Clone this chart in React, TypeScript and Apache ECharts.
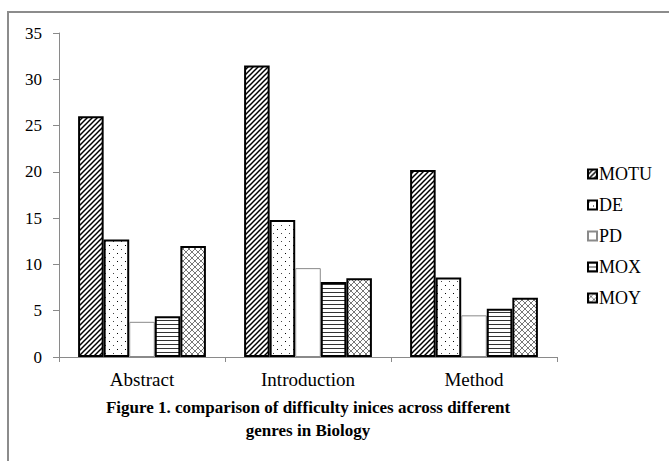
import React, { useEffect, useRef } from "react";
import * as echarts from "echarts";

const categories = ["Abstract", "Introduction", "Method"];
const seriesNames = ["MOTU", "DE", "PD", "MOX", "MOY"];
const motu = [26.0, 31.5, 20.2];
const de = [12.7, 14.8, 8.6];
const pd = [3.8, 9.6, 4.5];
const mox = [4.4, 8.1, 5.2];
const moy = [12.0, 8.5, 6.4];
const yTicks = { min: 0, max: 35, interval: 5 };
const titleLines = [
  "Figure 1. comparison of difficulty inices across different",
  "genres in Biology",
];

function makeTile(w: number, h: number, draw: (ctx: CanvasRenderingContext2D) => void) {
  const c = document.createElement("canvas");
  c.width = w;
  c.height = h;
  const ctx = c.getContext("2d")!;
  ctx.fillStyle = "#ffffff";
  ctx.fillRect(0, 0, w, h);
  draw(ctx);
  return { image: c, repeat: "repeat", imageWidth: w, imageHeight: h };
}

export default function App() {
  const ref = useRef<HTMLDivElement>(null);
  useEffect(() => {
    if (!ref.current) return;
    const chart = echarts.init(ref.current, null, { renderer: "svg" });

    const stripes = makeTile(5, 5, (ctx) => {
      ctx.strokeStyle = "#000";
      ctx.lineWidth = 1.5;
      for (let k = -1; k <= 1; k++) {
        ctx.beginPath();
        ctx.moveTo(k * 5 - 1, 6);
        ctx.lineTo(k * 5 + 6, -1);
        ctx.stroke();
      }
    });
    const dots = makeTile(8, 8, (ctx) => {
      ctx.fillStyle = "#444";
      ctx.fillRect(1, 1, 1, 1);
      ctx.fillStyle = "#000";
      ctx.fillRect(5, 5, 1, 1);
    });
    const hlines = makeTile(4, 4, (ctx) => {
      ctx.fillStyle = "#333";
      ctx.fillRect(0, 0, 4, 1);
    });
    const cross = makeTile(6, 6, (ctx) => {
      ctx.strokeStyle = "#777";
      ctx.lineWidth = 1;
      for (let k = -1; k <= 1; k++) {
        ctx.beginPath();
        ctx.moveTo(k * 6, 6);
        ctx.lineTo(k * 6 + 6, 0);
        ctx.stroke();
        ctx.beginPath();
        ctx.moveTo(k * 6, 0);
        ctx.lineTo(k * 6 + 6, 6);
        ctx.stroke();
      }
    });

    const data = [motu, de, pd, mox, moy];
    const fills: any[] = [stripes, dots, "#ffffff", hlines, cross];
    const borders = ["#000", "#000", "#8a8a8a", "#000", "#000"];
    const bws = [2, 2, 1, 2, 2];

    const font = "Liberation Serif";

    chart.setOption({
      animation: false,
      backgroundColor: "#ffffff",
      textStyle: { fontFamily: font, color: "#000" },
      grid: { left: 59, right: 112, top: 33, bottom: 104, containLabel: false },
      legend: {
        orient: "vertical",
        left: 587,
        top: 165,
        padding: 0,
        itemWidth: 9,
        itemHeight: 9,
        itemGap: 13,
        icon: "rect",
        textStyle: { fontFamily: font, fontSize: 18, color: "#000", padding: [0, 0, 0, -3] },
        data: seriesNames,
      },
      xAxis: {
        type: "category",
        data: categories,
        axisLine: { lineStyle: { color: "#8a8a8a", width: 1 } },
        axisTick: { show: true, length: 5, lineStyle: { color: "#8a8a8a" } },
        axisLabel: { fontFamily: font, fontSize: 19, color: "#000", margin: 13 },
      },
      yAxis: {
        type: "value",
        min: yTicks.min,
        max: yTicks.max,
        interval: yTicks.interval,
        splitLine: { show: false },
        axisLine: { show: true, lineStyle: { color: "#8a8a8a", width: 1 } },
        axisTick: { show: true, length: 6, lineStyle: { color: "#8a8a8a" } },
        axisLabel: { fontFamily: font, fontSize: 17, color: "#000", margin: 17 },
      },
      series: seriesNames.map((name, i) => ({
        name,
        type: "bar",
        data: data[i],
        barGap: "0%",
        barCategoryGap: "23%",
        itemStyle: { color: fills[i], borderColor: borders[i], borderWidth: bws[i] },
        emphasis: { disabled: true },
      })),
      graphic: [
        {
          type: "rect",
          shape: { x: 8, y: 12, width: 720, height: 520 },
          style: { fill: "none", stroke: "#8c8c8c", lineWidth: 2 },
          silent: true,
        },
        {
          type: "text",
          x: 308,
          y: 407,
          style: {
            text: titleLines[0],
            fontFamily: font,
            fontWeight: "bold",
            fontSize: 17,
            fill: "#000",
            align: "center",
            verticalAlign: "middle",
          },
        },
        {
          type: "text",
          x: 308,
          y: 430,
          style: {
            text: titleLines[1],
            fontFamily: font,
            fontWeight: "bold",
            fontSize: 17,
            fill: "#000",
            align: "center",
            verticalAlign: "middle",
          },
        },
      ],
    });
    return () => chart.dispose();
  }, []);
  return (
    <div
      ref={ref}
      style={{ position: "fixed", left: 0, top: 0, width: 669, height: 461 }}
    />
  );
}
